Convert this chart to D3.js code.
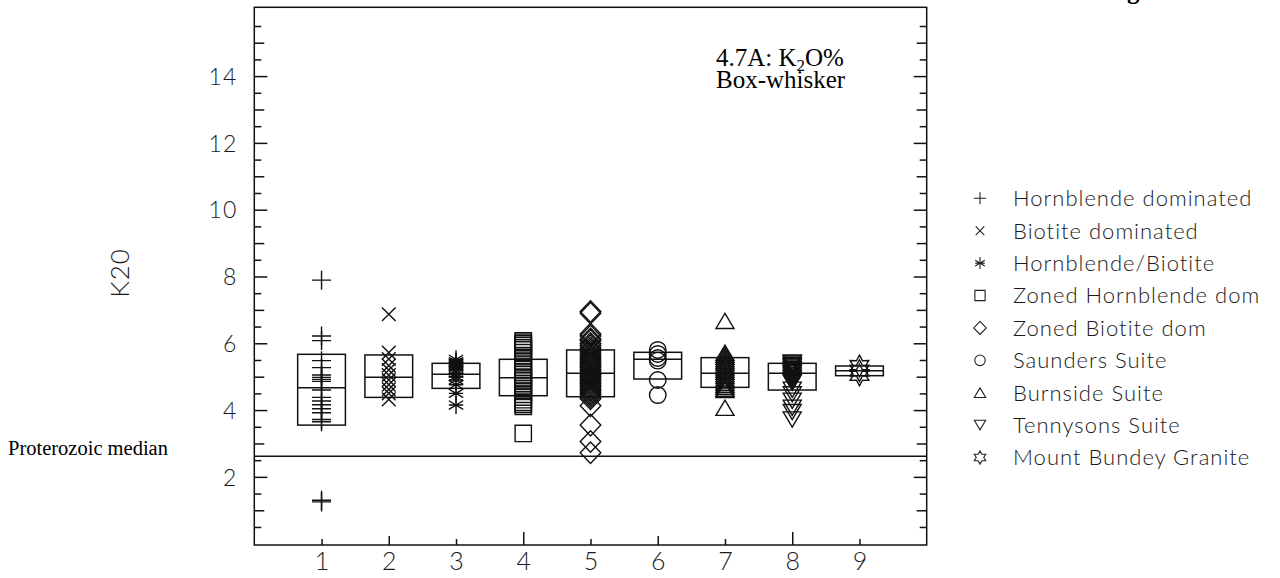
<!DOCTYPE html>
<html><head><meta charset="utf-8">
<script src="https://cdn.jsdelivr.net/npm/d3@7"></script>
<style>
html,body{margin:0;padding:0;background:#fff;}
svg{display:block;}
</style></head>
<body>
<svg id="chart" width="1280" height="578"></svg>
<script>
// ---------- data ----------
const groupIds = [1,2,3,4,5,6,7,8,9];
const groupNames = ["Hornblende dominated","Biotite dominated","Hornblende/Biotite","Zoned Hornblende dom","Zoned Biotite dom","Saunders Suite","Burnside Suite","Tennysons Suite","Mount Bundey Granite"];
const groupSymbols = ["plus","cross","asterisk","square","diamond","circle","triUp","triDown","star"];

const k2o_1 = [7.89,6.22,6.08,5.48,5.27,5.05,4.98,4.92,4.86,4.6,4.38,4.27,4.16,4.04,3.92,3.72,3.65,1.3,1.25];
const k2o_2 = [6.87,5.72,5.53,5.33,5.2,5.05,4.9,4.76,4.62,4.5,4.32];
const k2o_3 = [5.52,5.45,5.41,5.38,5.35,5.31,5.27,5.2,5.1,5.0,4.9,4.76,4.5,4.15];
const k2o_4 = [6.07,6.03,5.98,5.93,5.86,5.8,5.72,5.63,5.56,5.45,5.37,5.28,5.21,5.13,5.06,4.99,4.93,4.87,4.79,4.72,4.64,4.56,4.47,4.39,4.31,4.23,4.17,4.11,3.3];
const k2o_5 = [6.95,6.9,6.28,6.22,6.13,6.08,5.99,5.93,5.86,5.8,5.74,5.67,5.61,5.56,5.5,5.44,5.39,5.33,5.28,5.22,5.17,5.11,5.06,5.01,4.95,4.9,4.84,4.79,4.73,4.68,4.62,4.57,4.51,4.46,4.4,4.34,4.13,3.55,3.06,2.72];
const k2o_6 = [5.8,5.68,5.56,5.48,4.9,4.45];
const k2o_7 = [6.67,5.72,5.66,5.6,5.53,5.47,5.41,5.34,5.28,5.21,5.15,5.08,5.02,4.95,4.89,4.82,4.76,4.7,4.64,4.6,4.07];
const k2o_8 = [5.42,5.39,5.35,5.31,5.27,5.23,5.19,5.14,5.1,5.05,5.0,4.95,4.9,4.85,4.82,4.61,4.47,4.28,4.07,3.94,3.72];
const k2o_9 = [5.32,5.18,5.05];
const groupValues = [k2o_1,k2o_2,k2o_3,k2o_4,k2o_5,k2o_6,k2o_7,k2o_8,k2o_9];

const boxQ1  = [3.55,4.38,4.65,4.43,4.4,4.93,4.68,4.6,5.03];
const boxMed = [4.67,4.98,5.07,4.97,5.1,5.52,5.1,5.1,5.18];
const boxQ3  = [5.67,5.65,5.4,5.52,5.8,5.73,5.57,5.4,5.32];

const proterozoicMedian = 2.62;
const yTickLabels = [2,4,6,8,10,12,14];
const yOddTicks = [1,3,5,7,9,11,13,15];
const yHalfTicks = [0.5,1.5,2.5,3.5,4.5,5.5,6.5,7.5,8.5,9.5,10.5,11.5,12.5,13.5,14.5,15.5];
const xTickLabels = [1,2,3,4,5,6,7,8,9];
const xShort = [1,3,5,7,9], xMid = [2,6], xLong = [4,8];

// ---------- layout ----------
const svg = d3.select("#chart");
const L = 254.3, R = 926.7, T = 7.3, B = 545;
const x = d3.scaleLinear().domain([0,10]).range([L,R]);
const y = d3.scaleLinear().domain([-0.04,16.06]).range([B,T]);
const INK = "#111";
const sans = "Lato, 'Liberation Sans', sans-serif";
const serif = "'Liberation Serif', 'Times New Roman', serif";

function symPath(type, s){
  switch(type){
    case "plus": return `M${-s},0H${s}M0,${-s}V${s}`;
    case "cross": { const a=s*0.72; return `M${-a},${-a}L${a},${a}M${-a},${a}L${a},${-a}`; }
    case "asterisk": { const a=s*0.8; return `M0,${-s}V${s}M${-a},${-a*0.6}L${a},${a*0.6}M${-a},${a*0.6}L${a},${-a*0.6}M${-a},0H${a}`; }
    case "square": { const a=s*0.85; return `M${-a},${-a}H${a}V${a}H${-a}Z`; }
    case "diamond": return `M0,${-s*1.1}L${s*1.05},0L0,${s*1.1}L${-s*1.05},0Z`;
    case "circle": { const r=s*0.88; return `M${r},0A${r},${r} 0 1,1 ${-r},0A${r},${r} 0 1,1 ${r},0Z`; }
    case "triUp": { const w=s*0.95,h=s*0.8; return `M0,${-h}L${w},${h}L${-w},${h}Z`; }
    case "triDown": { const w=s*0.95,h=s*0.8; return `M0,${h}L${w},${-h}L${-w},${-h}Z`; }
    case "star": {
      let p=[]; const ro=s*1.1, ri=s*0.62;
      for(let i=0;i<12;i++){const r=i%2?ri:ro; const a=-Math.PI/2+i*Math.PI/6; p.push([r*Math.cos(a),r*Math.sin(a)]);}
      return "M"+p.map(d=>d[0].toFixed(2)+","+d[1].toFixed(2)).join("L")+"Z";
    }
  }
}

// ---------- frame ----------
svg.append("rect").attr("x",L).attr("y",T).attr("width",R-L).attr("height",B-T)
  .attr("fill","none").attr("stroke",INK).attr("stroke-width",1.5);

function yTicks(vals, size){
  svg.append("g").attr("transform",`translate(${L},0)`)
    .call(d3.axisRight(y).tickValues(vals).tickSize(size).tickFormat(""))
    .call(g=>{g.select(".domain").remove(); g.selectAll("line").attr("stroke",INK).attr("stroke-width",1.5);});
  svg.append("g").attr("transform",`translate(${R},0)`)
    .call(d3.axisLeft(y).tickValues(vals).tickSize(size).tickFormat(""))
    .call(g=>{g.select(".domain").remove(); g.selectAll("line").attr("stroke",INK).attr("stroke-width",1.5);});
}
yTicks(yTickLabels,13); yTicks(yOddTicks,10); yTicks(yHalfTicks,7);

svg.append("g").attr("transform",`translate(${L},0)`)
  .call(d3.axisLeft(y).tickValues(yTickLabels).tickSize(0).tickPadding(17).tickFormat(d3.format("d")))
  .call(g=>{g.select(".domain").remove();
    g.selectAll("text").attr("font-family",sans).attr("font-weight",300).attr("font-size",23)
      .attr("letter-spacing",1).attr("fill","#1a1a1a").attr("dy","0.36em");});

function xTicks(vals,size){
  svg.append("g").attr("transform",`translate(0,${B})`)
    .call(d3.axisTop(x).tickValues(vals).tickSize(size).tickFormat(""))
    .call(g=>{g.select(".domain").remove(); g.selectAll("line").attr("stroke",INK).attr("stroke-width",1.5);});
}
xTicks(xShort,6); xTicks(xMid,9); xTicks(xLong,13);
svg.append("g").attr("transform",`translate(0,${B})`)
  .call(d3.axisBottom(x).tickValues(xTickLabels).tickSize(0).tickPadding(7).tickFormat(d3.format("d")))
  .call(g=>{g.select(".domain").remove();
    g.selectAll("text").attr("font-family",sans).attr("font-weight",300).attr("font-size",25).attr("fill","#1a1a1a");});

svg.append("text").attr("transform",`translate(129,273) rotate(-90)`)
  .attr("text-anchor","middle").attr("font-family",sans).attr("font-weight",300).attr("font-size",26)
  .attr("letter-spacing",1).attr("fill","#1a1a1a").text("K20");

svg.append("line").attr("x1",L).attr("x2",R).attr("y1",y(proterozoicMedian)).attr("y2",y(proterozoicMedian))
  .attr("stroke",INK).attr("stroke-width",1.5);
svg.append("text").attr("x",8).attr("y",455).attr("font-family",serif).attr("font-size",20.5).attr("fill","#000")
  .text("Proterozoic median");

const bw = 0.355;
const boxes = svg.append("g");
groupIds.forEach((gid,i)=>{
  boxes.append("rect").attr("x",x(gid-bw)).attr("y",y(boxQ3[i])).attr("width",x(gid+bw)-x(gid-bw))
    .attr("height",y(boxQ1[i])-y(boxQ3[i])).attr("fill","none").attr("stroke",INK).attr("stroke-width",1.5);
  boxes.append("line").attr("x1",x(gid-bw)).attr("x2",x(gid+bw)).attr("y1",y(boxMed[i])).attr("y2",y(boxMed[i]))
    .attr("stroke",INK).attr("stroke-width",1.5);
});

const sizes = {plus:9.5,cross:9.5,asterisk:9,square:9.6,diamond:9.8,circle:9.4,triUp:9.5,triDown:9.5,star:9.8};
groupIds.forEach((gid,i)=>{
  svg.append("g").selectAll("path").data(groupValues[i]).join("path")
    .attr("transform",d=>`translate(${x(gid)},${y(d)})`)
    .attr("d",symPath(groupSymbols[i],sizes[groupSymbols[i]]))
    .attr("fill","none").attr("stroke",INK).attr("stroke-width",1.4);
});

// annotation
const ann = svg.append("text").attr("font-family",serif).attr("font-size",25).attr("fill","#000");
ann.append("tspan").attr("x",716).attr("y",66).text("4.7A: K");
ann.append("tspan").attr("font-size",17).attr("dy",5).text("2");
ann.append("tspan").attr("dy",-5).text("O%");
svg.append("text").attr("x",716).attr("y",88).attr("font-family",serif).attr("font-size",25).attr("fill","#000")
  .text("Box-whisker");

// cut-off title glyph at top right
svg.append("text").attr("x",1127).attr("y",-1).attr("font-family",serif).attr("font-weight","bold")
  .attr("font-size",25).attr("fill","#000").text("g");

// legend
const legY0 = 198.3, legDy = 32.4;
const leg = svg.append("g");
groupNames.forEach((nm,i)=>{
  leg.append("path").attr("transform",`translate(980,${legY0+i*legDy})`)
    .attr("d",symPath(groupSymbols[i],6)).attr("fill","none").attr("stroke","#222").attr("stroke-width",1.1);
  leg.append("text").attr("x",1013).attr("y",legY0+i*legDy).attr("dy","0.36em")
    .attr("font-family",sans).attr("font-weight",300).attr("font-size",22).attr("letter-spacing",1)
    .attr("fill","#1a1a1a").text(nm);
});
</script>
</body></html>
